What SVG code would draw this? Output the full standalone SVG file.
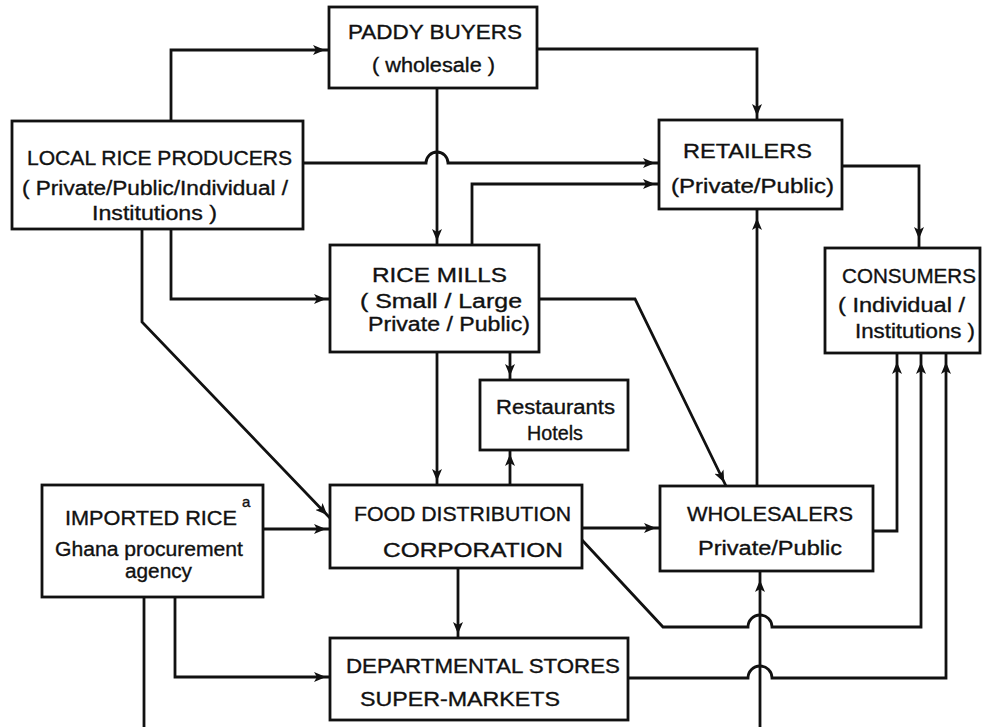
<svg xmlns="http://www.w3.org/2000/svg" width="982" height="727" viewBox="0 0 982 727">
<defs>
<marker id="arr" markerUnits="userSpaceOnUse" viewBox="0 0 12 10" markerWidth="12" markerHeight="10" refX="16" refY="5" orient="auto">
<path d="M0,0 L12,5 L0,10 L3,5 z" fill="#111"/>
</marker>
<marker id="arrFar" markerUnits="userSpaceOnUse" viewBox="0 0 12 10" markerWidth="12" markerHeight="10" refX="21" refY="5" orient="auto">
<path d="M0,0 L12,5 L0,10 L3,5 z" fill="#111"/>
</marker>
</defs>
<style>
.box{fill:#fff;stroke:#111;stroke-width:2.8}
.t{font-family:"Liberation Sans",Arial,sans-serif;font-size:20px;fill:#111;stroke:#111;stroke-width:0.35}
.c{fill:none;stroke:#111;stroke-width:2.8}
.a{marker-end:url(#arr)}
.f{marker-end:url(#arrFar)}
</style>
<rect width="982" height="727" fill="#fff"/>
<g id="connectors">
<path class="c a" d="M171,121 V50 H329"/>
<path class="c a" d="M303,163 H426 A11,11 0 0 1 448,163 H659"/>
<path class="c a" d="M537,49 H757 V120"/>
<path class="c a" d="M437,88 V245"/>
<path class="c a" d="M472,245 V184 H659"/>
<path class="c a" d="M171,229 V299 H330"/>
<path class="c a" d="M142,229 V322 L330,518"/>
<path class="c f" d="M842,166 H919 V248"/>
<path class="c a" d="M539,299 H635 L726,486"/>
<path class="c a" d="M437,352 V485"/>
<path class="c a" d="M510,352 V380"/>
<path class="c a" d="M510,485 V450"/>
<path class="c f" d="M757,486 V209"/>
<path class="c a" d="M263,529 H330"/>
<path class="c a" d="M582,528 H660"/>
<path class="c f" d="M873,531 H897 V353"/>
<path class="c f" d="M582,540 L663,627 H748 A12,12 0 0 1 772,627 H921 V353"/>
<path class="c a" d="M458,568 V638"/>
<path class="c a" d="M175,597 V677 H330"/>
<path class="c f" d="M628,678 H748 A12,12 0 0 1 772,678 H946 V353"/>
<path class="c f" d="M760,727 V571"/>
<path class="c" d="M144,597 V727"/>
</g>
<g id="paddy-buyers">
<rect class="box" x="329" y="7" width="208" height="81"/>
<text class="t" x="348" y="39" textLength="174" lengthAdjust="spacingAndGlyphs">PADDY  BUYERS</text>
<text class="t" x="372" y="72" textLength="123" lengthAdjust="spacingAndGlyphs">( wholesale )</text>
</g>
<g id="local-rice-producers">
<rect class="box" x="12" y="121" width="291" height="108"/>
<text class="t" x="27" y="165" textLength="265" lengthAdjust="spacingAndGlyphs">LOCAL RICE PRODUCERS</text>
<text class="t" x="22" y="195" textLength="266" lengthAdjust="spacingAndGlyphs">( Private/Public/Individual /</text>
<text class="t" x="92" y="220" textLength="125" lengthAdjust="spacingAndGlyphs">Institutions )</text>
</g>
<g id="retailers">
<rect class="box" x="659" y="120" width="183" height="89"/>
<text class="t" x="683" y="158" textLength="129" lengthAdjust="spacingAndGlyphs">RETAILERS</text>
<text class="t" x="671" y="193" textLength="163" lengthAdjust="spacingAndGlyphs">(Private/Public)</text>
</g>
<g id="rice-mills">
<rect class="box" x="330" y="245" width="209" height="107"/>
<text class="t" x="372" y="282" textLength="135" lengthAdjust="spacingAndGlyphs">RICE  MILLS</text>
<text class="t" x="360" y="308" textLength="162" lengthAdjust="spacingAndGlyphs">( Small / Large</text>
<text class="t" x="368" y="331" textLength="162" lengthAdjust="spacingAndGlyphs">Private / Public)</text>
</g>
<g id="consumers">
<rect class="box" x="825" y="248" width="155" height="105"/>
<text class="t" x="842" y="283" textLength="134" lengthAdjust="spacingAndGlyphs">CONSUMERS</text>
<text class="t" x="838" y="312" textLength="127" lengthAdjust="spacingAndGlyphs">( Individual /</text>
<text class="t" x="855" y="338" textLength="120" lengthAdjust="spacingAndGlyphs">Institutions )</text>
</g>
<g id="restaurants-hotels">
<rect class="box" x="480" y="380" width="148" height="70"/>
<text class="t" x="496" y="414" textLength="119" lengthAdjust="spacingAndGlyphs">Restaurants</text>
<text class="t" x="527" y="440" textLength="56" lengthAdjust="spacingAndGlyphs">Hotels</text>
</g>
<g id="imported-rice">
<rect class="box" x="42" y="485" width="221" height="112"/>
<text class="t" x="65" y="525" textLength="172" lengthAdjust="spacingAndGlyphs">IMPORTED RICE</text>
<text class="t" x="242" y="507" style="font-size:15px">a</text>
<text class="t" x="55" y="556" textLength="188" lengthAdjust="spacingAndGlyphs">Ghana procurement</text>
<text class="t" x="125" y="578" textLength="67" lengthAdjust="spacingAndGlyphs">agency</text>
</g>
<g id="food-distribution-corporation">
<rect class="box" x="330" y="485" width="252" height="83"/>
<text class="t" x="354" y="521" textLength="217" lengthAdjust="spacingAndGlyphs">FOOD DISTRIBUTION</text>
<text class="t" x="383" y="557" textLength="180" lengthAdjust="spacingAndGlyphs">CORPORATION</text>
</g>
<g id="wholesalers">
<rect class="box" x="660" y="486" width="213" height="85"/>
<text class="t" x="687" y="521" textLength="166" lengthAdjust="spacingAndGlyphs">WHOLESALERS</text>
<text class="t" x="698" y="555" textLength="144" lengthAdjust="spacingAndGlyphs">Private/Public</text>
</g>
<g id="departmental-stores">
<rect class="box" x="330" y="638" width="298" height="82"/>
<text class="t" x="346" y="673" textLength="274" lengthAdjust="spacingAndGlyphs">DEPARTMENTAL STORES</text>
<text class="t" x="360" y="706" textLength="200" lengthAdjust="spacingAndGlyphs">SUPER-MARKETS</text>
</g>
</svg>
